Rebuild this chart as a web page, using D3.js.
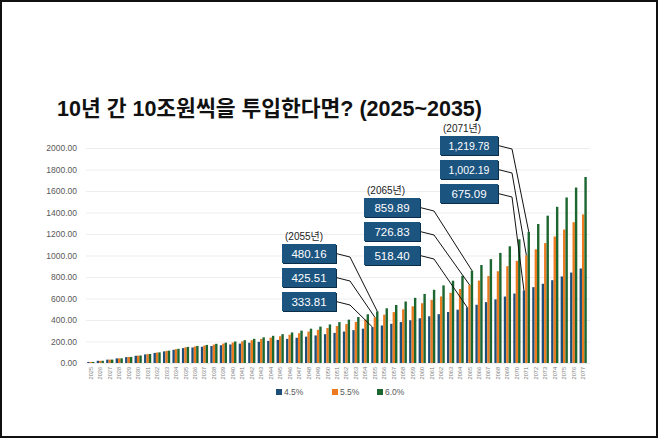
<!DOCTYPE html>
<html>
<head>
<meta charset="utf-8">
<script src="https://cdn.jsdelivr.net/npm/d3@7"></script>
<style>
  body { margin: 0; background: #fff; }
  svg text { font-family: "Liberation Sans", "Noto Sans CJK KR", sans-serif; }
</style>
</head>
<body>
<div id="chart"></div>
<script>
// years on the x axis
var years = d3.range(2025, 2078).map(String);

// fund size per year for each rate (조원)
var rate45 = [10.00, 20.45, 31.37, 42.78, 54.71, 67.17, 80.19, 93.80, 108.02, 122.88,
  138.41, 144.64, 151.15, 157.95, 165.06, 172.49, 180.25, 188.36, 196.84, 205.69,
  214.95, 224.62, 234.73, 245.29, 256.33, 267.87, 279.92, 292.52, 305.68, 319.44,
  333.81, 348.83, 364.53, 380.93, 398.07, 415.99, 434.71, 454.27, 474.71, 496.07,
  518.40, 541.72, 566.10, 591.58, 618.20, 646.02, 675.09, 705.47, 737.21, 770.39,
  805.05, 841.28, 879.14];
var rate55 = [10.00, 20.55, 31.68, 43.42, 55.81, 68.88, 82.67, 97.22, 112.56, 128.75,
  145.83, 153.86, 162.32, 171.25, 180.66, 190.60, 201.08, 212.14, 223.81, 236.12,
  249.11, 262.81, 277.26, 292.51, 308.60, 325.57, 343.48, 362.37, 382.30, 403.33,
  425.51, 448.91, 473.60, 499.65, 527.13, 556.13, 586.71, 618.98, 653.03, 688.94,
  726.83, 766.81, 808.98, 853.48, 900.42, 949.94, 1002.19, 1057.31, 1115.46, 1176.81,
  1241.54, 1309.82, 1381.86];
var rate60 = [10.00, 20.60, 31.84, 43.75, 56.37, 69.75, 83.94, 98.97, 114.91, 131.81,
  149.72, 158.70, 168.22, 178.31, 189.01, 200.35, 212.38, 225.12, 238.63, 252.94,
  268.12, 284.21, 301.26, 319.33, 338.49, 358.80, 380.33, 403.15, 427.34, 452.98,
  480.16, 508.97, 539.51, 571.88, 606.19, 642.56, 681.12, 721.99, 765.30, 811.22,
  859.89, 911.49, 966.18, 1024.15, 1085.60, 1150.74, 1219.78, 1292.97, 1370.54, 1452.78,
  1539.94, 1632.34, 1730.28];

var seriesNames = ["4.5%", "5.5%", "6.0%"];
var seriesValues = [rate45, rate55, rate60];
var seriesColors = ["#1f4e79", "#ec7a1f", "#1c6630"];

var yTicks = [0, 200, 400, 600, 800, 1000, 1200, 1400, 1600, 1800, 2000];

// callout years (boxes show the three rates, highest on top)
var calloutYears = ["2055", "2065", "2071"];

var W = 658, H = 440;
var svg = d3.select("#chart").append("svg")
    .attr("width", W)
    .attr("height", H);

svg.append("rect")
    .attr("x", 1).attr("y", 1)
    .attr("width", 656).attr("height", 436)
    .attr("fill", "#fff")
    .attr("stroke", "#111")
    .attr("stroke-width", 2);

var plotL = 86, plotR = 588, plotT = 148, plotB = 363;

var x0 = d3.scaleBand().domain(years).range([plotL, plotR]).paddingInner(0.24).paddingOuter(0.13);
var x1 = d3.scaleBand().domain(d3.range(3)).range([0, x0.bandwidth()]);
var y = d3.scaleLinear().domain([0, 2000]).range([plotB, plotT]);

// gridlines + y labels
var yAxis = d3.axisLeft(y).tickValues(yTicks).tickFormat(d3.format(".2f"))
    .tickSize(-(plotR + 2 - plotL)).tickPadding(9);
var gy = svg.append("g").attr("transform", "translate(" + plotL + ",0)").call(yAxis);
gy.select(".domain").remove();
gy.selectAll("line").attr("stroke", "#e8e8e8").attr("stroke-width", 0.8);
gy.selectAll("text").attr("fill", "#595959").style("font-size", "8.5px");

// bars
var groups = svg.append("g").selectAll("g")
    .data(years)
    .join("g")
    .attr("transform", function (d) { return "translate(" + x0(d) + ",0)"; });

groups.selectAll("rect")
    .data(function (d, i) { return seriesValues.map(function (s, k) { return { k: k, v: s[i] }; }); })
    .join("rect")
    .attr("x", function (d) { return x1(d.k); })
    .attr("width", x1.bandwidth())
    .attr("y", function (d) { return y(d.v); })
    .attr("height", function (d) { return y(0) - y(d.v); })
    .attr("fill", function (d) { return seriesColors[d.k]; });

// x labels
var gx = svg.append("g").attr("transform", "translate(0," + (plotB + 4) + ")");
gx.selectAll("text")
    .data(years)
    .join("text")
    .attr("transform", function (d) {
      return "translate(" + (x0(d) + x0.bandwidth() / 2 + 2) + ",0) rotate(-90)";
    })
    .attr("text-anchor", "end")
    .attr("fill", "#7a7a7a")
    .style("font-size", "5.6px")
    .text(function (d) { return d; });

// legend
var legX = [276, 332, 377];
var leg = svg.append("g").selectAll("g")
    .data(seriesNames)
    .join("g")
    .attr("transform", function (d, i) { return "translate(" + legX[i] + ",389)"; });
leg.append("rect").attr("width", 6).attr("height", 6)
    .attr("fill", function (d, i) { return seriesColors[i]; });
leg.append("text").attr("x", 8).attr("y", 6)
    .attr("fill", "#595959")
    .style("font-size", "8.5px")
    .text(function (d) { return d; });

// title
svg.append("text")
    .attr("x", 57).attr("y", 116)
    .attr("fill", "#111")
    .style("font-size", "21.5px")
    .style("font-weight", "bold")
    .text("10년 간 10조원씩을 투입한다면? (2025~2035)");

// callouts
var boxPos = [{ x: 282, y: 244, w: 54 }, { x: 364, y: 198, w: 56 }, { x: 440, y: 136, w: 58 }];
var fmt = d3.format(",.2f");
calloutYears.forEach(function (yr, c) {
  var i = years.indexOf(yr);
  var b = boxPos[c];
  svg.append("text")
      .attr("x", b.x + 3).attr("y", b.y - 4)
      .attr("fill", "#222")
      .style("font-size", "10px")
      .text("(" + yr + "년)");
  [2, 1, 0].forEach(function (k, row) {
    var by = b.y + row * 24;
    var bx = x0(yr) + x1(k) + x1.bandwidth() / 2;
    var v = seriesValues[k][i];
    svg.append("polyline")
        .attr("points", [[b.x + b.w, by + 9.5], [b.x + b.w + 14, by + 13], [bx, y(v)]].join(" "))
        .attr("fill", "none")
        .attr("stroke", "#111")
        .attr("stroke-width", 1);
    svg.append("rect")
        .attr("x", b.x + 1).attr("y", by + 1)
        .attr("width", b.w).attr("height", 19)
        .attr("fill", "#0c2d47");
    svg.append("rect")
        .attr("x", b.x).attr("y", by)
        .attr("width", b.w).attr("height", 19)
        .attr("fill", "#1c5480");
    svg.append("text")
        .attr("x", b.x + b.w / 2).attr("y", by + 13.5)
        .attr("text-anchor", "middle")
        .attr("fill", "#fff")
        .style("font-size", v >= 1000 ? "10.5px" : "11.5px")
        .text(fmt(v));
  });
});
</script>
</body>
</html>
